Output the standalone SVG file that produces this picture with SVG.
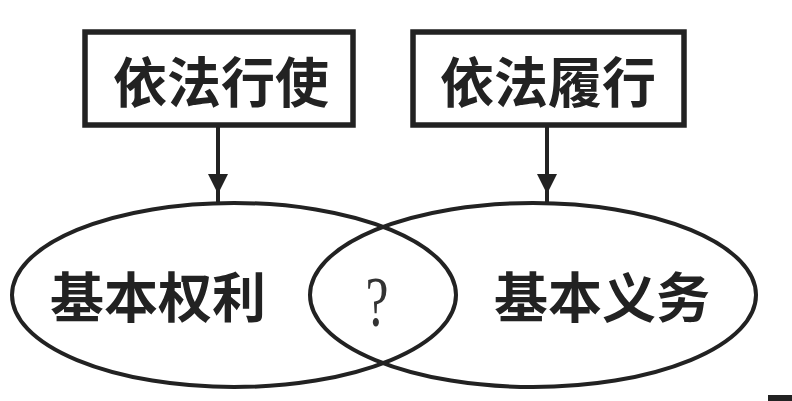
<svg xmlns="http://www.w3.org/2000/svg" width="792" height="401" viewBox="0 0 792 401">
<style>
.box{fill:#fff;stroke:#222;stroke-width:5.5}
.ell{fill:none;stroke:#222;stroke-width:4}
.t{font-family:"Noto Sans CJK SC","Noto Sans CJK JP",sans-serif;font-size:54px;font-weight:bold;fill:#222;text-anchor:middle}
.q{font-family:"Liberation Serif",serif;font-size:72px;fill:#333;text-anchor:middle}
.ln{stroke:#222;stroke-width:4;fill:none}
</style>
<defs>
<marker id="ah" markerWidth="5" markerHeight="5" refX="4" refY="2.5" orient="auto" markerUnits="strokeWidth">
<path d="M0,0 L5,2.5 L0,5 Z" fill="#222"/>
</marker>
</defs>
<rect width="792" height="401" fill="#fff"/>
<g id="connectors">
<line class="ln" x1="218" y1="127" x2="218" y2="190" marker-end="url(#ah)"/>
<line class="ln" x1="218" y1="188" x2="218" y2="204"/>
<line class="ln" x1="547" y1="127" x2="547" y2="190" marker-end="url(#ah)"/>
<line class="ln" x1="547" y1="188" x2="547" y2="204"/>
</g>
<g id="node-xingshi">
<rect class="box" x="85" y="32" width="268" height="93"/>
<text class="t" x="221" y="103">依法行使</text>
</g>
<g id="node-lvxing">
<rect class="box" x="413" y="32" width="271" height="93"/>
<text class="t" x="548" y="103">依法履行</text>
</g>
<g id="node-quanli">
<ellipse class="ell" cx="234" cy="295" rx="222" ry="92"/>
<text class="t" x="158" y="318">基本权利</text>
</g>
<g id="node-yiwu">
<ellipse class="ell" cx="533" cy="295" rx="223" ry="92"/>
<text class="t" x="602" y="318">基本义务</text>
</g>
<g id="node-overlap">
<text class="q" transform="translate(377 326) scale(0.72 1)" x="0" y="0">?</text>
</g>
<rect x="768" y="395" width="24" height="6" fill="#222"/>
</svg>
